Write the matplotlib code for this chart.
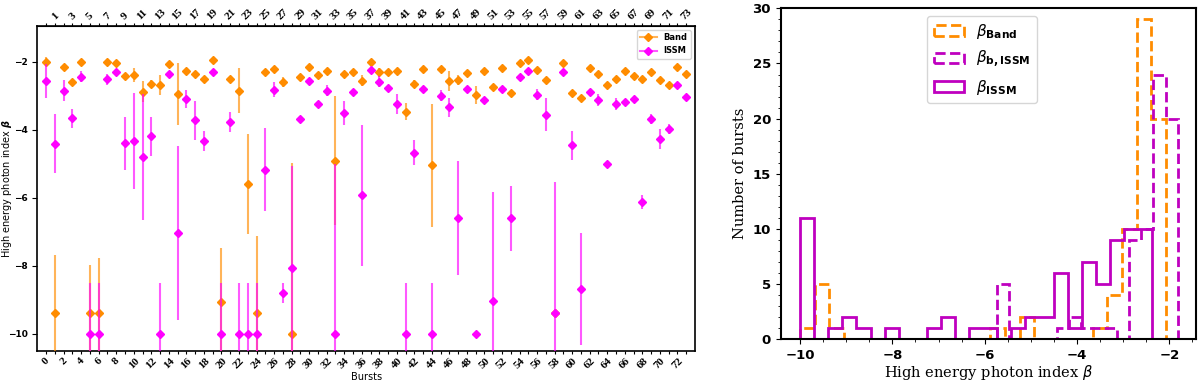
import numpy as np
import matplotlib
matplotlib.use('Agg')
import matplotlib.pyplot as plt
from matplotlib.lines import Line2D
from matplotlib.colors import to_rgba
from matplotlib.ticker import AutoMinorLocator

# Left panel: high energy index per burst (Band fit and ISSM fit)
bursts = np.arange(74)
beta_band = [-2.00, -9.37, -2.17, -2.59, -2.00, -9.37, -9.37, -2.00, -2.05, -2.42,
             -2.39, -2.88, -2.65, -2.68, -2.07, -2.95, -2.27, -2.36, -2.51, -1.95,
             -9.07, -2.52, -2.85, -5.59, -9.37, -2.31, -2.21, -2.60, -10.0, -2.44,
             -2.15, -2.39, -2.29, -4.91, -2.36, -2.32, -2.56, -2.00, -2.32, -2.32,
             -2.27, -3.48, -2.65, -2.21, -5.05, -2.21, -2.57, -2.54, -2.34, -2.98,
             -2.29, -2.75, -2.20, -2.91, -2.05, -1.95, -2.24, -2.54, -9.37, -2.05,
             -2.91, -3.07, -2.18, -2.36, -2.70, -2.52, -2.29, -2.42, -2.51, -2.31,
             -2.54, -2.70, -2.15, -2.36]
err_band = [0.12, 1.68, 0.08, 0.06, 0.06, 1.40, 1.60, 0.05, 0.05, 0.06,
            0.20, 0.30, 0.12, 0.30, 0.06, 0.92, 0.05, 0.06, 0.06, 0.06,
            1.58, 0.06, 0.65, 1.46, 2.25, 0.06, 0.06, 0.15, 5.02, 0.05,
            0.05, 0.05, 0.05, 1.89, 0.05, 0.05, 0.16, 0.05, 0.13, 0.05,
            0.05, 0.25, 0.11, 0.05, 1.80, 0.05, 0.28, 0.15, 0.05, 0.27,
            0.05, 0.05, 0.05, 0.05, 0.05, 0.05, 0.05, 0.05, 0.00, 0.05,
            0.05, 0.05, 0.05, 0.05, 0.05, 0.05, 0.05, 0.05, 0.05, 0.05,
            0.05, 0.05, 0.05, 0.05]
beta_issm = [-2.57, -4.41, -2.85, -3.67, -2.44, -10.0, -10.0, -2.52, -2.32, -4.40,
             -4.34, -4.80, -4.20, -10.0, -2.36, -7.04, -3.10, -3.73, -4.34, -2.32,
             -10.0, -3.77, -10.0, -10.0, -10.0, -5.17, -2.83, -8.80, -8.05, -3.69,
             -2.56, -3.24, -2.85, -10.0, -3.51, -2.88, -5.92, -2.24, -2.59, -2.78,
             -3.25, -10.0, -4.68, -2.81, -10.0, -3.00, -3.34, -6.60, -2.81, -10.0,
             -3.12, -9.02, -2.81, -6.60, -2.46, -2.29, -2.98, -3.56, -9.37, -2.31,
             -4.46, -8.68, -2.88, -3.12, -5.02, -3.24, -3.20, -3.10, -6.13, -3.68,
             -4.27, -3.98, -2.68, -3.05]
err_issm = [0.50, 0.87, 0.32, 0.27, 0.15, 1.50, 1.50, 0.16, 0.08, 0.78,
            1.41, 1.86, 0.56, 1.50, 0.08, 2.56, 0.27, 0.57, 0.30, 0.06,
            1.50, 0.30, 1.50, 1.50, 1.50, 1.21, 0.22, 0.30, 2.98, 0.08,
            0.06, 0.08, 0.17, 5.00, 0.34, 0.08, 2.07, 0.06, 0.16, 0.06,
            0.30, 1.50, 0.37, 0.06, 1.50, 0.16, 0.28, 1.67, 0.06, 0.00,
            0.06, 3.20, 0.06, 0.96, 0.06, 0.06, 0.16, 0.48, 3.83, 0.06,
            0.43, 1.65, 0.06, 0.18, 0.06, 0.17, 0.06, 0.06, 0.20, 0.15,
            0.30, 0.16, 0.06, 0.06]

# Right panel: histogram counts (bin range and number of bins per series)
counts_band = [1, 5, 1, 0, 0, 0, 0, 0, 0, 0, 0, 0, 0, 1, 0, 2, 0, 0, 0, 0, 1, 4, 10, 29, 20]
range_band = (-10.0, -2.07)
counts_bissm = [5, 0, 0, 0, 0, 1, 2, 1, 1, 1, 0, 9, 10, 24, 20]
range_bissm = (-5.74, -1.82)
counts_issm = [11, 0, 1, 2, 1, 0, 1, 0, 0, 1, 2, 0, 1, 1, 0, 1, 2, 2, 6, 1, 7, 5, 9, 10, 10]
range_issm = (-10.0, -2.37)

orange = '#FF8C00'
magenta = '#FF00FF'
purple = '#BF00BF'

fig = plt.figure(figsize=(12, 3.83), dpi=100)

# ---- left panel ----
ax = fig.add_axes([0.0311, 0.0836, 0.548, 0.849])
ax.errorbar(bursts, beta_band, yerr=err_band, fmt='D', ms=4, color=orange,
            ecolor=to_rgba(orange, 0.65), elinewidth=1.5, zorder=3)
ax.errorbar(bursts, beta_issm, yerr=err_issm, fmt='D', ms=4, color=magenta,
            ecolor=to_rgba(magenta, 0.65), elinewidth=1.5, zorder=4)
ax.set_xlim(-1, 74)
ax.set_ylim(-10.5, -0.95)
ax.set_yticks([-2, -4, -6, -8, -10])
for lab in ax.get_yticklabels():
    lab.set_fontweight('bold')
    lab.set_fontsize(6.5)

ax.set_xticks(bursts)
ax.set_xticklabels([str(i) if i % 2 == 0 else '' for i in bursts],
                   rotation=45, family='Liberation Serif', weight='bold', fontsize=8)
ax.tick_params(axis='x', length=2.5, pad=1)
top = ax.secondary_xaxis('top')
top.set_xticks(bursts)
top.set_xticklabels([str(i) if i % 2 == 1 else '' for i in bursts],
                    rotation=45, family='Liberation Serif', weight='bold', fontsize=8)
top.tick_params(axis='x', length=2.5, pad=1)
for sp in ax.spines.values():
    sp.set_linewidth(1.2)

ax.set_xlabel('Bursts', fontsize=7, labelpad=1)
ax.set_ylabel(r'High energy photon index $\boldsymbol{\beta}$', fontsize=7)
ax.yaxis.set_label_coords(-0.036, 0.5)

handles = [Line2D([0], [0], color=to_rgba(orange, 0.65), lw=1.5, marker='D', ms=4,
                  mfc=orange, mec=orange),
           Line2D([0], [0], color=to_rgba(magenta, 0.65), lw=1.5, marker='D', ms=4,
                  mfc=magenta, mec=magenta)]
ax.legend(handles, ['Band', 'ISSM'], loc='upper right', prop={'weight': 'bold', 'size': 6})

# ---- right panel ----
ax2 = fig.add_axes([0.6506, 0.1141, 0.3461, 0.8642])
edges_band = np.linspace(range_band[0], range_band[1], len(counts_band) + 1)
edges_bissm = np.linspace(range_bissm[0], range_bissm[1], len(counts_bissm) + 1)
edges_issm = np.linspace(range_issm[0], range_issm[1], len(counts_issm) + 1)

ax2.hist(edges_band[:-1], bins=edges_band, weights=counts_band, histtype='step',
         ls='--', lw=2, color=orange, label=r'$\beta_{\mathbf{Band}}$')
ax2.hist(edges_bissm[:-1], bins=edges_bissm, weights=counts_bissm, histtype='step',
         ls='--', lw=2, color=purple, label=r'$\beta_{\mathbf{b,ISSM}}$')
ax2.hist(edges_issm[:-1], bins=edges_issm, weights=counts_issm, histtype='step',
         ls='-', lw=2, color=purple, label=r'$\beta_{\mathbf{ISSM}}$')
ax2.set_xlim(-10.42, -1.42)
ax2.set_ylim(0, 30)
ax2.set_xticks([-10, -8, -6, -4, -2])
ax2.xaxis.set_minor_locator(AutoMinorLocator())
ax2.yaxis.set_minor_locator(AutoMinorLocator())
for lab in ax2.get_xticklabels() + ax2.get_yticklabels():
    lab.set_fontweight('bold')
    lab.set_fontsize(9.5)
for sp in ax2.spines.values():
    sp.set_linewidth(1.5)
ax2.set_xlabel(r'High energy photon index $\beta$', family='DejaVu Serif', fontsize=10.5, labelpad=1)
ax2.set_ylabel('Number of bursts', family='DejaVu Serif', fontsize=10.5)
ax2.legend(loc='upper center', fontsize=11, bbox_to_anchor=(0.485, 1.0))

plt.savefig('out.png', dpi=100)
